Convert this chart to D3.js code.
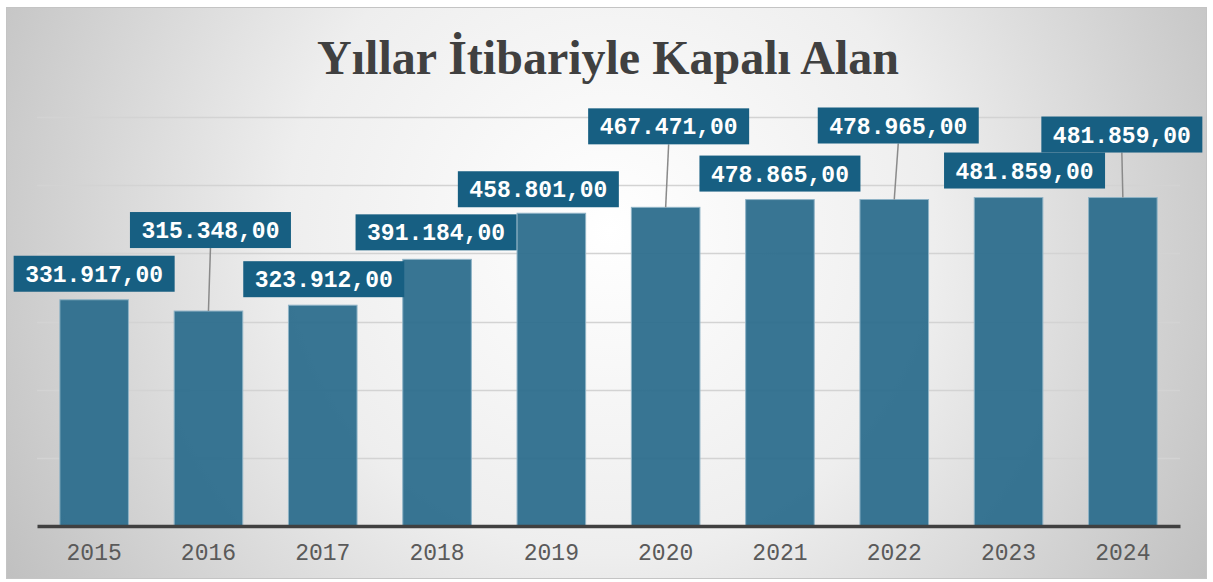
<!DOCTYPE html>
<html>
<head>
<meta charset="utf-8">
<script src="https://cdn.jsdelivr.net/npm/d3@7"></script>
<style>
  body { margin: 0; background: #fff; }
</style>
</head>
<body>
<svg width="1213" height="582"></svg>
<script>
// data
var years = ["2015", "2016", "2017", "2018", "2019", "2020", "2021", "2022", "2023", "2024"];
var area = [331917, 315348, 323912, 391184, 458801, 467471, 478865, 478965, 481859, 481859];
var labels = ["331.917,00", "315.348,00", "323.912,00", "391.184,00", "458.801,00",
              "467.471,00", "478.865,00", "478.965,00", "481.859,00", "481.859,00"];
var gridTicks = [0, 100000, 200000, 300000, 400000, 500000, 600000];

// label box offset from bar top centre (layout, px)
var labelShift = [[0, -26], [2, -81], [1, -26], [-1, -27], [-13, -24],
                  [3, -81], [0, -26], [4, -74], [16, -27], [-1, -63]];

var svg = d3.select("svg");

var defs = svg.append("defs");
var grad = defs.append("radialGradient")
  .attr("id", "bg")
  .attr("gradientUnits", "userSpaceOnUse")
  .attr("cx", 610).attr("cy", 230).attr("r", 720);
grad.append("stop").attr("offset", "0%").attr("stop-color", "#ffffff");
grad.append("stop").attr("offset", "45%").attr("stop-color", "#eeeeee");
grad.append("stop").attr("offset", "100%").attr("stop-color", "#bdbdbd");

svg.append("rect")
  .attr("x", 6.5).attr("y", 7.5)
  .attr("width", 1200).attr("height", 571)
  .attr("fill", "url(#bg)")
  .attr("stroke", "#c4c4c4");

svg.append("text")
  .attr("x", 608).attr("y", 74)
  .attr("text-anchor", "middle")
  .style("font-family", "'Liberation Serif', 'Times New Roman', serif")
  .style("font-weight", "bold")
  .style("font-size", "48px")
  .attr("fill", "#404040")
  .text("Yıllar İtibariyle Kapalı Alan");

var x = d3.scaleBand().domain(years).range([37, 1180]).paddingInner(0.4).paddingOuter(0.2);
var y = d3.scaleLinear().domain([0, 600000]).range([526, 117]);

var g = svg.append("g");

g.selectAll(".grid")
  .data(gridTicks.slice(1))
  .enter().append("line")
  .attr("x1", 37).attr("x2", 1180)
  .attr("y1", d => Math.round(y(d)) + 0.5)
  .attr("y2", d => Math.round(y(d)) + 0.5)
  .attr("stroke", "#d3d3d3")
  .attr("stroke-width", 1.5);

g.selectAll(".bar")
  .data(area)
  .enter().append("rect")
  .attr("x", (d, i) => x(years[i]))
  .attr("y", d => y(d))
  .attr("width", x.bandwidth())
  .attr("height", d => y(0) - y(d))
  .attr("fill", "#2d6e8d")
  .attr("fill-opacity", 0.95)
  .attr("stroke", "#8fb3c6")
  .attr("stroke-width", 1);

// x axis
var xAxis = g.append("g")
  .attr("transform", "translate(0,526)")
  .call(d3.axisBottom(x).tickSize(0).tickPadding(18));
xAxis.select(".domain").attr("stroke", "#404040").attr("stroke-width", 3.5);
xAxis.selectAll("text")
  .style("font-family", "'Liberation Mono', 'Courier New', monospace")
  .style("font-size", "23px")
  .attr("fill", "#5a5a5a");

// data labels
var lab = g.selectAll(".lab")
  .data(area)
  .enter().append("g")
  .attr("transform", (d, i) => {
    var cx = x(years[i]) + x.bandwidth() / 2 + labelShift[i][0];
    var cy = y(d) + labelShift[i][1];
    return "translate(" + cx + "," + cy + ")";
  });

lab.each(function(d, i) {
  var sel = d3.select(this);
  var gap = -labelShift[i][1] - 18;
  if (gap > 12) {
    sel.append("line")
      .attr("x1", 0).attr("y1", 18)
      .attr("x2", -labelShift[i][0]).attr("y2", -labelShift[i][1])
      .attr("stroke", "#8a8a8a")
      .attr("stroke-width", 1.5);
  }
  sel.append("rect")
    .attr("x", -80.5).attr("y", -18)
    .attr("width", 161).attr("height", 36)
    .attr("fill", "#175f82");
  sel.append("text")
    .attr("text-anchor", "middle")
    .attr("dy", "0.35em")
    .style("font-family", "'Liberation Mono', 'Courier New', monospace")
    .style("font-weight", "bold")
    .style("font-size", "23px")
    .attr("fill", "#ffffff")
    .text(labels[i]);
});
</script>
</body>
</html>
